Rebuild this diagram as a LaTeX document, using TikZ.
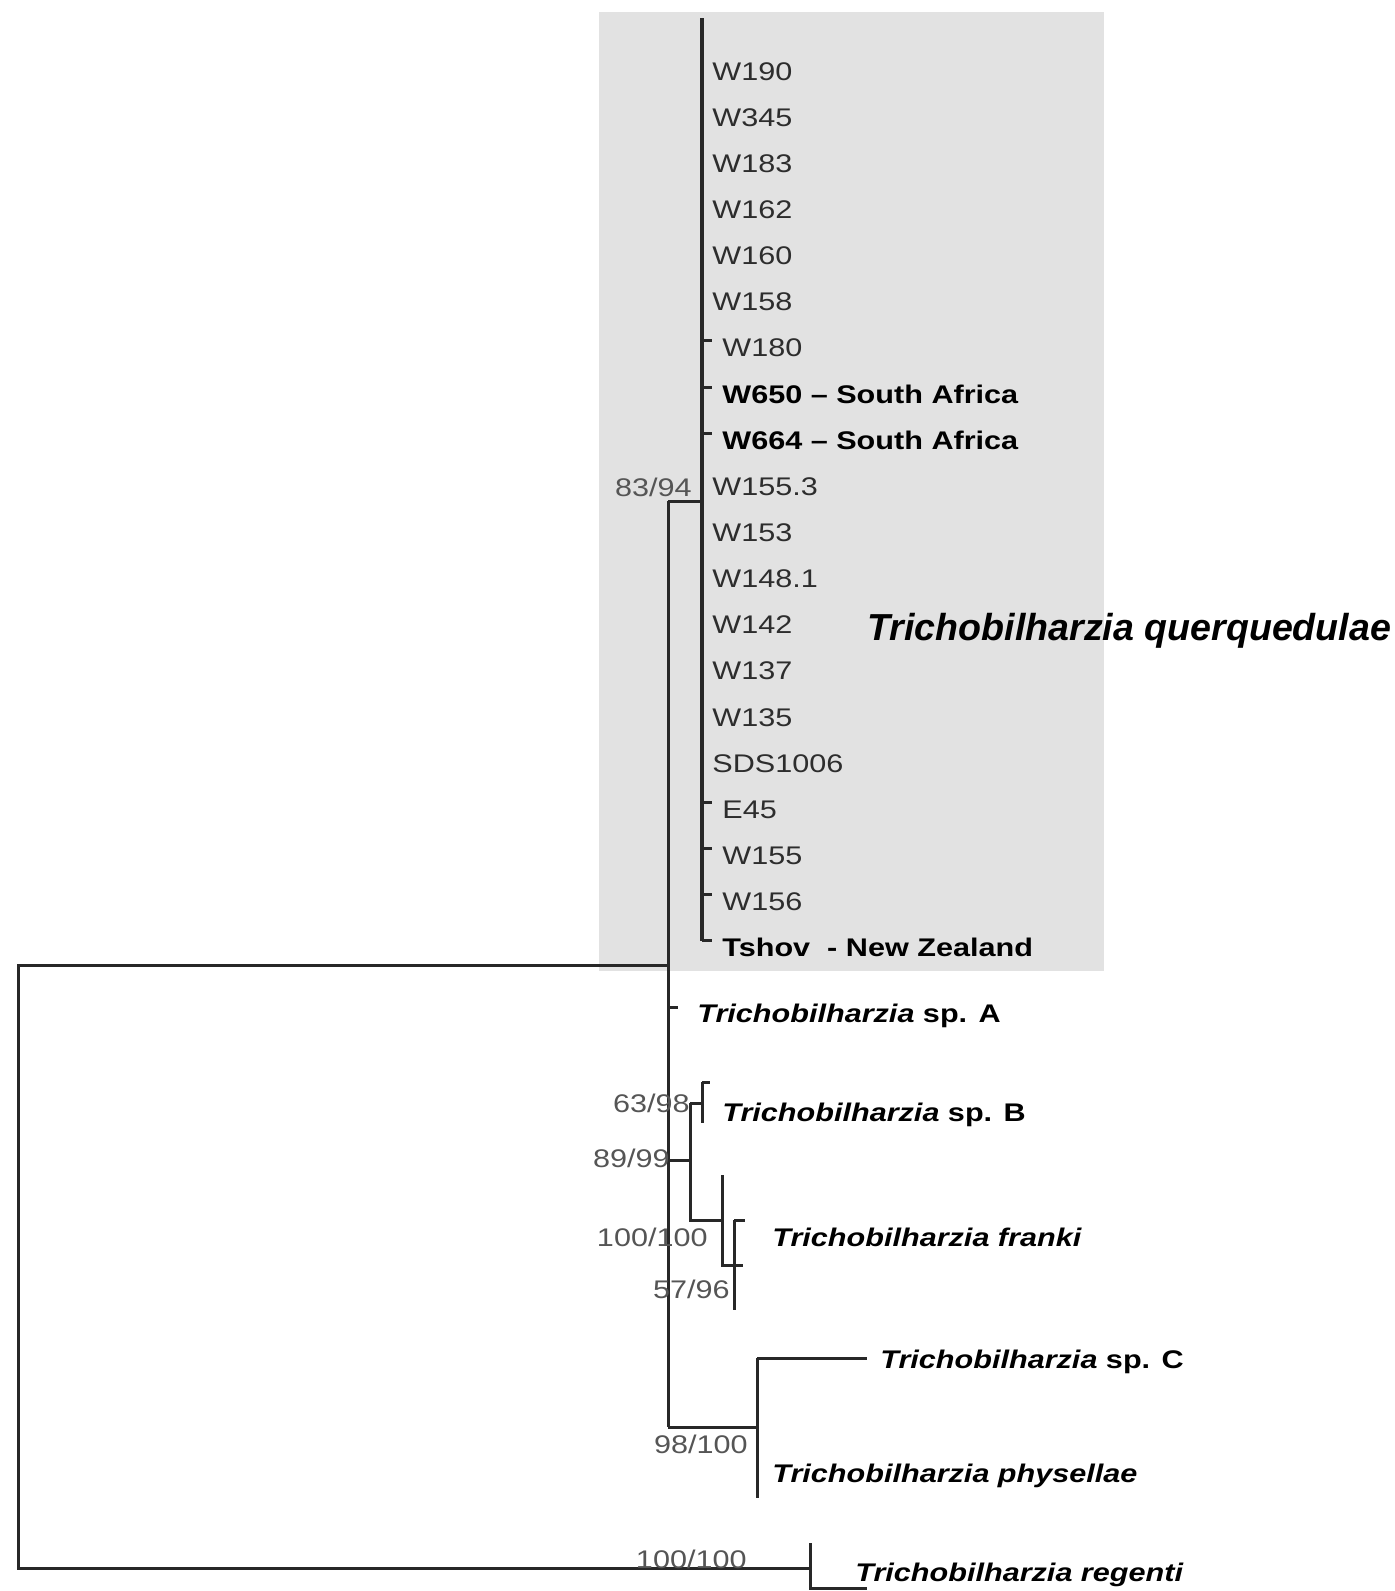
\documentclass[tikz,border=0pt]{standalone}
\usepackage{fontspec}
\newfontfamily\leaffont[FakeStretch=1.2]{Liberation Sans}
\newfontfamily\cladefont{Liberation Sans}
\usetikzlibrary{positioning, calc}
\definecolor{boxgray}{RGB}{226,226,226}
\definecolor{linegray}{RGB}{40,40,40}
\definecolor{leafgray}{RGB}{45,45,45}
\definecolor{supgray}{RGB}{85,85,85}
\tikzset{
	branch/.style={draw=linegray, line width=1.5pt},
	leaf/.style={anchor=base west, inner sep=0pt, text=leafgray, font=\leaffont\fontsize{12.75}{15}\selectfont},
	boldleaf/.style={leaf, text=black, font=\leaffont\bfseries\fontsize{12.75}{15}\selectfont},
	support/.style={anchor=base east, inner sep=0pt, text=supgray, font=\leaffont\fontsize{12.75}{15}\selectfont},
	cladelabel/.style={anchor=base west, inner sep=0pt, text=black, font=\cladefont\bfseries\itshape\fontsize{18.8}{22}\selectfont}
}

\begin{document}
\begin{tikzpicture}[x=0.5pt, y=-0.5pt]
	\useasboundingbox (0,0) rectangle (1394,1591);
	% riquadro querquedulae
	\fill[boxgray] (599,12) rectangle (1104,971);

	% nodi interni
	\coordinate (root) at (18,965);
	\coordinate (rootB) at (18,1568);
	\coordinate (ingroup) at (668,965);
	\coordinate (spine) at (668,501);
	\coordinate (quer) at (702,501);
	\coordinate (querTop) at (702,18);
	\coordinate (querBot) at (702,941);
	\coordinate (n89) at (668,1160);
	\coordinate (n63) at (690,1103);
	\coordinate (n100) at (690,1220);
	\coordinate (n57) at (734,1265);
	\coordinate (n98) at (668,1427);
	\coordinate (nreg) at (810,1568);

	% radice
	\draw[branch] (ingroup) -- (root) -- (rootB) -- (nreg);
	\draw[branch] (spine) -- (n98);
	\draw[branch] (spine) -- (quer);
	\draw[branch, line width=2pt] (querTop) -- (querBot);

	% foglie querquedulae
	\foreach \lab/\tk/\st [count=\i from 0] in {W190/0/leaf, W345/0/leaf, W183/0/leaf, W162/0/leaf,
		W160/0/leaf, W158/0/leaf, W180/1/leaf, {W650 – South Africa}/1/boldleaf,
		{W664 – South Africa}/1/boldleaf, W155.3/0/leaf, W153/0/leaf, W148.1/0/leaf,
		W142/0/leaf, W137/0/leaf, W135/0/leaf, SDS1006/0/leaf, E45/1/leaf, W155/1/leaf,
		W156/1/leaf, {Tshov\ \ - New Zealand}/1/boldleaf}
	{
		\pgfmathsetmacro\yc{71+46.15*\i}
		\node[\st] (leaf\i) at ({712+10*\tk},{\yc+9}) {\lab};
		\ifnum\tk=1
			\coordinate (tk\i) at (702,\yc-7);
			\draw[branch] (tk\i) -- ++(10,0);
		\fi
	}
	\node[cladelabel] (querlab) at (867,640) {Trichobilharzia querquedulae};

	% sp. A
	\coordinate (tkA) at (668,1007);
	\draw[branch] (tkA) -- ++(10,0);
	\node[boldleaf] (spA) at (697,1022) {\textit{Trichobilharzia} sp. A};

	% sp. B e franki
	\draw[branch] (n89) -- (n89 -| n63);
	\draw[branch] (n63) -- (n100) -- (722,1220);
	\draw[branch] (n63) -- (702,1103);
	\draw[branch] (702,1082) -- (702,1123);
	\draw[branch] (702,1082) -- ++(8,0);
	\node[boldleaf] (spB) at (722,1121) {\textit{Trichobilharzia} sp. B};
	\draw[branch] (722,1175) -- (722,1265) -- (n57) -- ++(9,0);
	\draw[branch] (734,1220) -- (734,1310);
	\draw[branch] (734,1220) -- ++(11,0);
	\node[boldleaf] (franki) at (772,1246) {\textit{Trichobilharzia franki}};

	% sp. C e physellae
	\draw[branch] (n98) -- (757,1427);
	\draw[branch] (757,1358) -- (757,1498);
	\draw[branch] (757,1358) -- (867,1358);
	\node[boldleaf] (spC) at (880,1368) {\textit{Trichobilharzia} sp. C};
	\node[boldleaf] (phys) at (772,1482) {\textit{Trichobilharzia physellae}};

	% regenti
	\draw[branch] (810,1543) -- (810,1588) -- (867,1588);
	\node[boldleaf] (reg) at (855,1581) {\textit{Trichobilharzia regenti}};

	% supporti
	\node[support] (s1) at (692,496) {83/94};
	\node[support] (s2) at (690,1112) {63/98};
	\node[support] (s3) at (670,1167) {89/99};
	\node[support] (s4) at (708,1246) {100/100};
	\node[support] (s5) at (730,1298) {57/96};
	\node[support] (s6) at (748,1453) {98/100};
	\node[support] (s7) at (747,1568) {100/100};
\end{tikzpicture}
\end{document}
